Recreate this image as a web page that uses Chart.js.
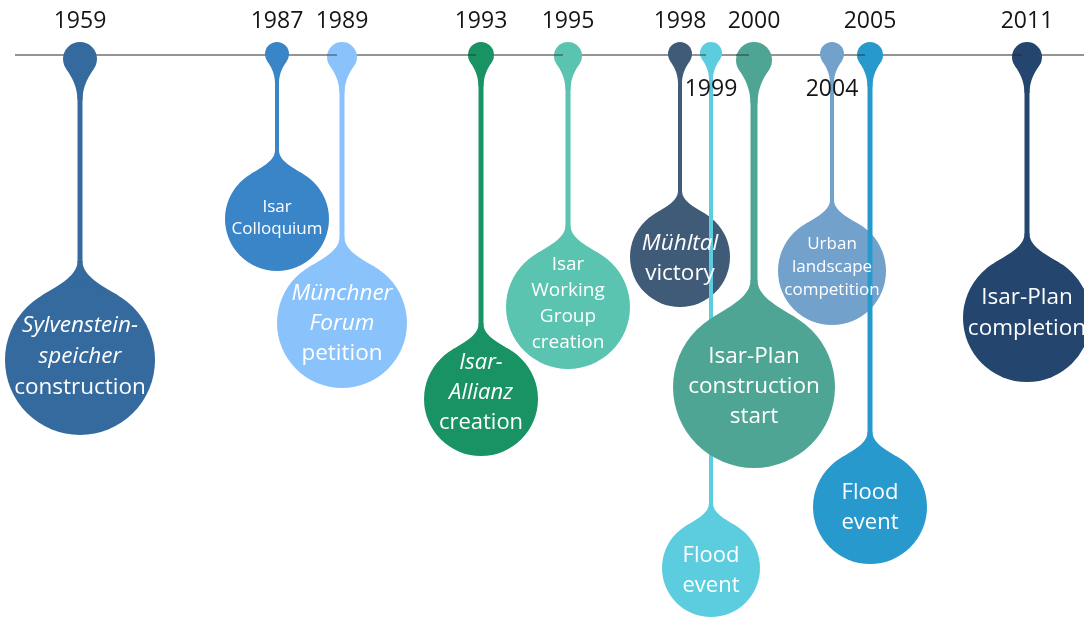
<!DOCTYPE html>
<html lang="en">
<head>
  <meta charset="UTF-8" />
  <title>Isar timeline</title>
  <style>
    html, body {
      margin: 0;
      padding: 0;
      background: #ffffff;
    }
    #wrap {
      width: 1084px;
      height: 617px;
      position: relative;
    }
  </style>
  <script src="https://cdn.jsdelivr.net/npm/chart.js"></script>
</head>
<body>

  <div id="wrap">
    <canvas id="timeline"></canvas>
  </div>

  <script>
    // data
    const years = [1959, 1987, 1989, 1993, 1995, 1998, 1999, 2000, 2004, 2005, 2011];
    const eventLabels = [
      ['Sylvenstein-', 'speicher', 'construction'],
      ['Isar', 'Colloquium'],
      ['Münchner', 'Forum', 'petition'],
      ['Isar-', 'Allianz', 'creation'],
      ['Isar', 'Working', 'Group', 'creation'],
      ['Mühltal', 'victory'],
      ['Flood', 'event'],
      ['Isar-Plan', 'construction', 'start'],
      ['Urban', 'landscape', 'competition'],
      ['Flood', 'event'],
      ['Isar-Plan', 'completion']
    ];

    // layout (axis units = px, the scales run 0..1084 and 0..617)
    const pinX   = [80, 277, 342, 481, 568, 680, 711, 754, 832, 870, 1027];
    const headR  = [17, 12, 15, 13, 14, 12, 11, 18, 12, 13, 15];
    const bodyY  = [360, 219, 323, 399, 307, 257, 568, 387, 271, 507, 318];
    const bodyR  = [75, 52, 65, 57, 62, 50, 49, 81, 54, 57, 64];
    const stemW  = [5, 4, 5, 5, 5, 4, 4, 7, 4, 5, 5];
    const pinColors = ['#356a9f', '#3a84c8', '#8ac3fb', '#1a9364', '#5bc4b1', '#405b77',
                       '#5bcddf', '#4ea593', '#72a1cc', '#2899cd', '#24456e'];
    const textSize   = [22.5, 17, 22.5, 22, 19, 22.5, 22, 22.5, 17, 22, 22.5];
    const textLead   = [31, 22, 30, 30, 26, 30, 30, 30, 23, 30, 31];
    const textMidY   = [357, 218, 324, 393, 304, 259, 571, 387, 267, 508, 313];
    const italicRows = [2, 0, 2, 2, 0, 1, 0, 0, 0, 0, 0];
    const yearBelow  = [0, 0, 0, 0, 0, 0, 1, 0, 1, 0, 0];
    const lineOver   = [0, 0, 1, 1, 1, 0, 1, 1, 0, 1, 1];
    const HEAD_TOP = 42;
    const AXIS_Y = 55;
    const FONT = "'Open Sans', 'Noto Sans', sans-serif";

    const headY = i => HEAD_TOP + headR[i];

    const datasets = years.map((yr, i) => ({
      label: String(yr),
      type: 'bubble',
      order: -i,
      data: [
        { x: pinX[i], y: headY(i), r: headR[i] },
        { x: pinX[i], y: bodyY[i], r: bodyR[i] }
      ],
      backgroundColor: pinColors[i],
      borderWidth: 0,
      hoverBorderWidth: 0,
      hoverRadius: 0
    }));

    // stems, tapers and necks of each pin, drawn right before its circles
    const pinPlugin = {
      id: 'pins',
      beforeDatasetsDraw(chart) {
        const { ctx, scales: { x, y } } = chart;
        ctx.save();
        ctx.strokeStyle = '#707070';
        ctx.lineWidth = 1.5;
        ctx.beginPath();
        ctx.moveTo(x.getPixelForValue(15), y.getPixelForValue(AXIS_Y));
        ctx.lineTo(x.getPixelForValue(1084), y.getPixelForValue(AXIS_Y));
        ctx.stroke();
        ctx.restore();
      },
      beforeDatasetDraw(chart, args) {
        const i = args.index;
        const { ctx, scales: { x, y } } = chart;
        const px = x.getPixelForValue(pinX[i]);
        const hy = y.getPixelForValue(headY(i));
        const cy = y.getPixelForValue(bodyY[i]);
        const hr = headR[i], r = bodyR[i], w = stemW[i] / 2;
        const fh = r * 0.32;
        const yNeck = cy - r - fh;
        ctx.save();
        ctx.fillStyle = pinColors[i];

        // stem
        ctx.fillRect(px - w, hy, w * 2, yNeck - hy + 2);

        // head taper
        const b = 55 * Math.PI / 180;
        const tEnd = hy + hr * 2.4;
        const qx = hr * Math.sin(b), qy = hy + hr * Math.cos(b);
        const tc = hr * 0.5;
        ctx.beginPath();
        ctx.moveTo(px - qx, qy);
        ctx.bezierCurveTo(px - qx + tc * Math.cos(b), qy + tc * Math.sin(b),
                          px - w, hy + hr * 1.6, px - w, tEnd);
        ctx.lineTo(px + w, tEnd);
        ctx.bezierCurveTo(px + w, hy + hr * 1.6,
                          px + qx - tc * Math.cos(b), qy + tc * Math.sin(b), px + qx, qy);
        ctx.closePath();
        ctx.fill();

        // neck into the body circle
        const a = 31 * Math.PI / 180;
        const jx = r * Math.sin(a), jy = cy - r * Math.cos(a);
        const t = r * 0.3;
        ctx.beginPath();
        ctx.moveTo(px - w, yNeck);
        ctx.bezierCurveTo(px - w, yNeck + fh * 0.6,
                          px - jx + t * Math.cos(a), jy - t * Math.sin(a), px - jx, jy);
        ctx.lineTo(px + jx, jy);
        ctx.bezierCurveTo(px + jx - t * Math.cos(a), jy - t * Math.sin(a),
                          px + w, yNeck + fh * 0.6, px + w, yNeck);
        ctx.closePath();
        ctx.fill();
        ctx.restore();
      },
      afterDatasetsDraw(chart) {
        const { ctx, scales: { x, y } } = chart;
        ctx.save();
        // axis line showing over the left half of some heads
        ctx.strokeStyle = 'rgba(40,40,40,0.55)';
        ctx.lineWidth = 1.5;
        years.forEach((yr, i) => {
          if (!lineOver[i]) return;
          const px = x.getPixelForValue(pinX[i]);
          ctx.beginPath();
          ctx.moveTo(px - headR[i], y.getPixelForValue(AXIS_Y));
          ctx.lineTo(px - 5, y.getPixelForValue(AXIS_Y));
          ctx.stroke();
        });

        ctx.textAlign = 'center';
        ctx.textBaseline = 'middle';
        // years
        ctx.fillStyle = '#151515';
        ctx.font = '23px ' + FONT;
        years.forEach((yr, i) => {
          const ty = yearBelow[i] ? 89 : 21;
          ctx.fillText(String(yr), x.getPixelForValue(pinX[i]), y.getPixelForValue(ty));
        });
        // event texts
        ctx.fillStyle = '#ffffff';
        eventLabels.forEach((lines, i) => {
          const px = x.getPixelForValue(pinX[i]);
          const top = textMidY[i] - (lines.length - 1) * textLead[i] / 2;
          lines.forEach((ln, k) => {
            ctx.font = (k < italicRows[i] ? 'italic ' : '') + textSize[i] + 'px ' + FONT;
            ctx.fillText(ln, px, y.getPixelForValue(top + k * textLead[i]));
          });
        });
        ctx.restore();
      }
    };

    new Chart(document.getElementById('timeline'), {
      type: 'bubble',
      data: { datasets },
      options: {
        responsive: true,
        maintainAspectRatio: false,
        animation: false,
        events: [],
        layout: { padding: 0, autoPadding: false },
        plugins: {
          legend: { display: false },
          tooltip: { enabled: false }
        },
        scales: {
          x: { type: 'linear', min: 0, max: 1084, display: false },
          y: { type: 'linear', min: 0, max: 617, reverse: true, display: false }
        }
      },
      plugins: [pinPlugin]
    });
  </script>

</body>
</html>
